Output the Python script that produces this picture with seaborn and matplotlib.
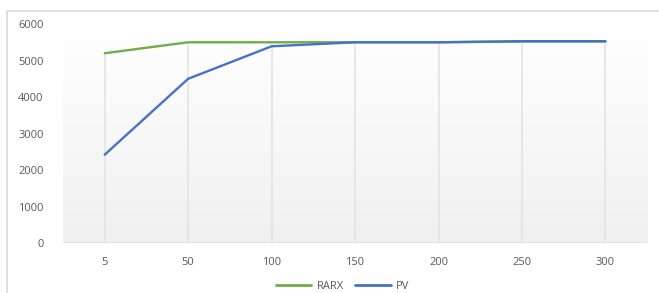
import numpy as np
import pandas as pd
import matplotlib
matplotlib.use('Agg')
import matplotlib.pyplot as plt
import seaborn as sns
from matplotlib.patches import Rectangle

# values
categories = ['5', '50', '100', '150', '200', '250', '300']
rarx = [5200, 5500, 5500, 5500, 5500, 5520, 5520]
pv = [2420, 4500, 5390, 5500, 5500, 5530, 5530]

df = pd.DataFrame({
    'N': categories * 2,
    'value': rarx + pv,
    'series': ['RARX'] * len(categories) + ['PV'] * len(categories),
})

sns.set_style('white')
plt.rcParams['font.family'] = ['Open Sans', 'DejaVu Sans']

fig = plt.figure(figsize=(6.59, 2.93), dpi=100)
ax = fig.add_axes([0.0956, 0.1706, 0.8864, 0.7474])

# outer chart frame
fig.patches.append(Rectangle((7 / 659, -0.05), 1.0, 1 - 11 / 293 + 0.05,
                             transform=fig.transFigure, fill=False,
                             edgecolor='#d9d9d9', linewidth=1.2, zorder=0))

# soft gradient in the plot area (white at top, light grey at bottom)
grad = np.linspace(0.0, 1.0, 256).reshape(-1, 1)
ax.imshow(grad, extent=[0, 1, 0, 1], transform=ax.transAxes, aspect='auto',
          cmap=matplotlib.colors.LinearSegmentedColormap.from_list('g', ['#ffffff', '#f0f0f0']),
          vmin=0, vmax=1, zorder=0, origin='upper')

palette = {'RARX': '#70ad47', 'PV': '#4472c4'}
sns.lineplot(data=df, x='N', y='value', hue='series', palette=palette,
             linewidth=1.7, ax=ax, legend=False, zorder=3, sort=False)

ax.set_xlim(-0.5, 6.5)
ax.set_ylim(0, 6000)
ax.set_yticks(range(0, 6001, 1000))
# drop lines from the highest series down to the axis
top = np.maximum(rarx, pv)
ax.vlines(range(len(categories)), 0, top, color='#e3e3e3', linewidth=1.2, zorder=1)
ax.axhline(0, color='#dedede', linewidth=1.2, zorder=2)

for s in ax.spines.values():
    s.set_visible(False)
ax.tick_params(length=0, labelsize=8, labelcolor='#595959')
ax.tick_params(axis='x', pad=10)
ax.tick_params(axis='y', pad=14)
ax.set_xlabel('')
ax.set_ylabel('')

handles = [plt.Line2D([], [], color=palette[k], linewidth=2) for k in ['RARX', 'PV']]
fig.legend(handles, ['RARX', 'PV'], loc='lower center', bbox_to_anchor=(0.52, -0.03),
           ncol=2, frameon=False, fontsize=8, labelcolor='#595959',
           handlelength=3.2, columnspacing=1.0, handletextpad=0.5)

fig.savefig('out.png', dpi=100)
